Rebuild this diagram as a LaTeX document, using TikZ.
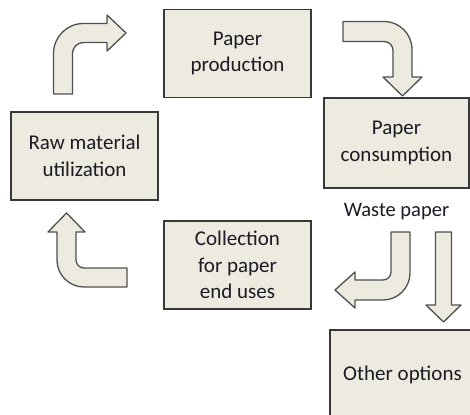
\documentclass[tikz,border=0pt]{standalone}
\usepackage{fontspec}
\setmainfont{Carlito}
\definecolor{paperfill}{RGB}{237,234,223}
\definecolor{edgegray}{RGB}{56,56,56}
\definecolor{arrowedge}{RGB}{80,80,80}
\definecolor{inkdark}{RGB}{28,26,36}
\tikzset{
  stagebox/.style={draw=edgegray, line width=1.5pt, fill=paperfill,
    minimum width=147pt, minimum height=88pt, inner sep=0pt,
    align=center, text=inkdark, font=\fontsize{21}{26.5}\selectfont},
  blockarrow/.style={draw=arrowedge, line width=1.3pt, fill=paperfill,
    line join=round},
  plainlabel/.style={text=inkdark, inner sep=0pt,
    font=\fontsize{20.5}{26}\selectfont}
}
\begin{document}
\begin{tikzpicture}[x=1pt, y=-1pt]
\useasboundingbox (0,0) rectangle (470,414);
\clip (0,0) rectangle (470,414);
\fill[white] (0,0) rectangle (470,414);

% stages of the paper cycle
\node[stagebox] (raw) at (84.5,156) {Raw material\\utilization};
\node[stagebox] (prod) at (237.5,53.5) {Paper\\production};
\node[stagebox, minimum width=145pt, minimum height=90pt] (cons) at (396.5,143) {Paper\\consumption};
\node[stagebox] (coll) at (237.5,265) {Collection\\for paper\\end uses};
\node[stagebox, minimum width=145pt, minimum height=90pt] (other) at (402.5,375) {Other options};
\node[plainlabel] (waste) at (396.5,212) {Waste paper};

% bent arrow: raw material -> production
\draw[blockarrow] (53.5,94) -- (53.5,53.5)
  .. controls (53.5,36.9) and (66.9,23.5) .. (83.5,23.5)
  -- (107,23.5) -- (107,15) -- (126,33) -- (107,51) -- (107,42.5)
  -- (83.5,42.5) .. controls (77.4,42.5) and (72.5,47.4) .. (72.5,53.5)
  -- (72.5,94) -- cycle;

% bent arrow: production -> consumption
\draw[blockarrow] (343,21.5) -- (384,21.5)
  .. controls (399.5,21.5) and (412,34) .. (412,49.5)
  -- (412,77) -- (422,77) -- (402.5,96) -- (383,77) -- (393,77)
  -- (393,50.5) .. controls (393,45.5) and (389,41.5) .. (384,41.5)
  -- (343,41.5) -- cycle;

% bent arrow: collection -> raw material
\draw[blockarrow] (127,268) -- (84,268)
  .. controls (79.6,268) and (76,264.4) .. (76,260)
  -- (76,232) -- (85,232) -- (66.5,213) -- (48,232) -- (57,232)
  -- (57,260) .. controls (57,274.9) and (69.1,287) .. (84,287)
  -- (127,287) -- cycle;

% bent arrow: waste paper -> collection
\draw[blockarrow] (391,232) -- (410,232) -- (410,273)
  .. controls (410,287.9) and (397.9,300) .. (383,300)
  -- (355,300) -- (355,308) -- (335,290) -- (355,272) -- (355,280)
  -- (383,280) .. controls (387.4,280) and (391,276.4) .. (391,272)
  -- cycle;

% straight arrow: waste paper -> other options
\draw[blockarrow] (435.5,232) -- (451.5,232) -- (451.5,305) -- (461,305)
  -- (443.5,322) -- (426,305) -- (435.5,305) -- cycle;
\end{tikzpicture}
\end{document}
